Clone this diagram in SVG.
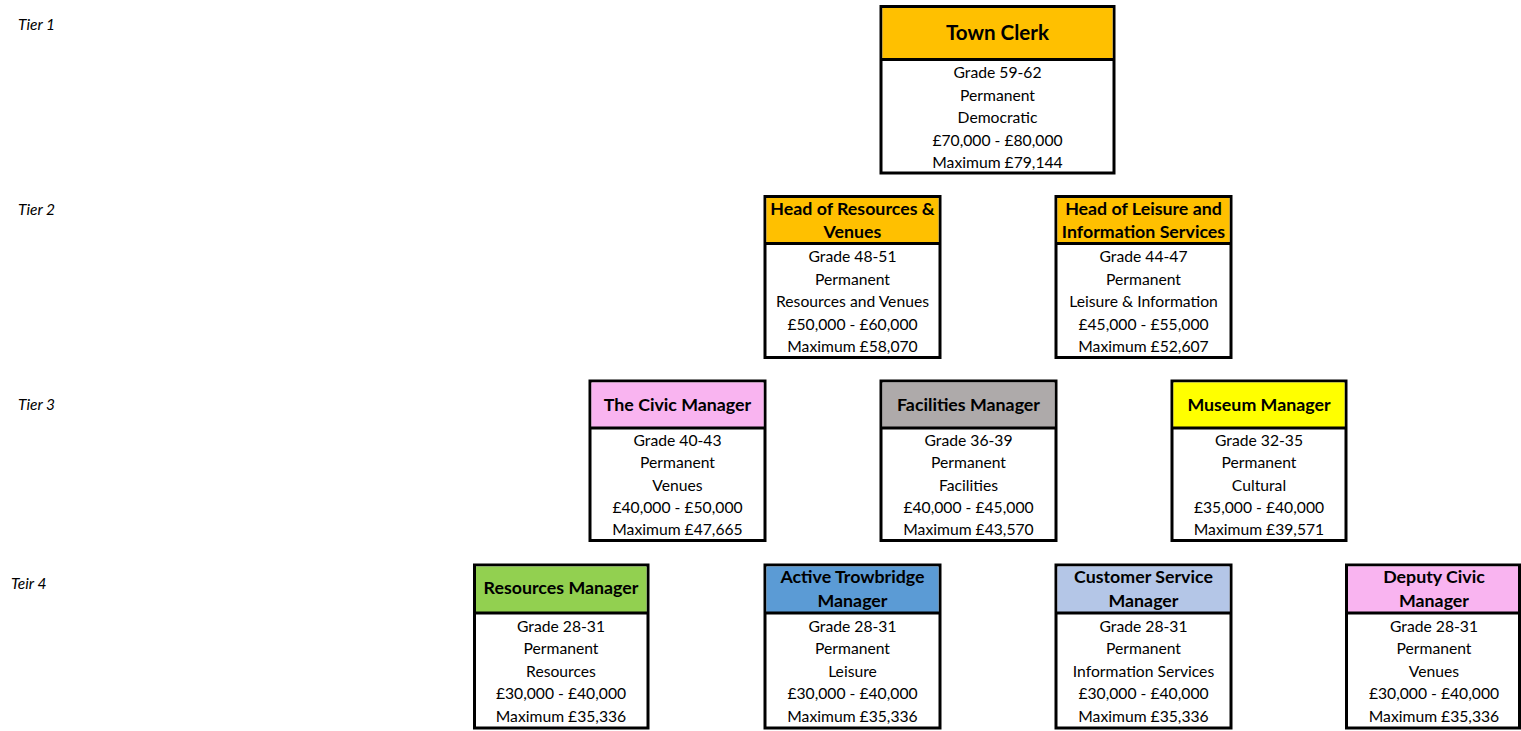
<svg xmlns="http://www.w3.org/2000/svg" width="1521" height="731" viewBox="0 0 1521 731">
<style>
.bg{fill:#ffffff}
.box{fill:#ffffff;stroke:#000;stroke-width:3}
.div{stroke:#000;stroke-width:3}
.t{font-family:Lato,"Liberation Sans",sans-serif;font-size:15.7px;fill:#000;text-anchor:middle}
.h{font-family:Lato,"Liberation Sans",sans-serif;font-size:17.8px;font-weight:bold;fill:#000;text-anchor:middle}
.hb{font-family:Lato,"Liberation Sans",sans-serif;font-size:20.6px;font-weight:bold;fill:#000;text-anchor:middle}
.tier{font-family:Lato,"Liberation Sans",sans-serif;font-size:15.5px;font-style:italic;fill:#000}
.orange{fill:#FFC000}
.pink{fill:#F9B4F0}
.gray{fill:#AEAAAA}
.yellow{fill:#FFFF00}
.green{fill:#92D050}
.blue{fill:#5B9BD5}
.lblue{fill:#B4C6E7}
</style>
<rect class="bg" x="0" y="0" width="1521" height="731"/>
<g id="tier-labels">
<text class="tier" x="18" y="30">Tier 1</text>
<text class="tier" x="18" y="215">Tier 2</text>
<text class="tier" x="18" y="410">Tier 3</text>
<text class="tier" x="11" y="589">Teir 4</text>
</g>
<g id="connectors"></g>
<g id="town-clerk">
<rect class="box" x="881" y="6.5" width="233" height="166.5"/>
<rect class="orange" x="882.5" y="8" width="230" height="51"/>
<line class="div" x1="881" y1="59.5" x2="1114" y2="59.5"/>
<text class="hb" x="997.5" y="39.5">Town Clerk</text>
<text class="t" x="997.5" y="77.5">Grade 59-62</text>
<text class="t" x="997.5" y="100.5">Permanent</text>
<text class="t" x="997.5" y="122.5">Democratic</text>
<text class="t" x="997.5" y="145.5">£70,000 - £80,000</text>
<text class="t" x="997.5" y="167.5">Maximum £79,144</text>
</g>
<g id="head-resources">
<rect class="box" x="765" y="196.5" width="175" height="161"/>
<rect class="orange" x="766.5" y="198" width="172" height="45"/>
<line class="div" x1="765" y1="243.5" x2="940" y2="243.5"/>
<text class="h" x="852.5" y="215">Head of Resources &amp;</text>
<text class="h" x="852.5" y="238">Venues</text>
<text class="t" x="852.5" y="261.5">Grade 48-51</text>
<text class="t" x="852.5" y="284.5">Permanent</text>
<text class="t" x="852.5" y="306.5">Resources and Venues</text>
<text class="t" x="852.5" y="329.5">£50,000 - £60,000</text>
<text class="t" x="852.5" y="351.5">Maximum £58,070</text>
</g>
<g id="head-leisure">
<rect class="box" x="1056" y="196.5" width="175" height="161"/>
<rect class="orange" x="1057.5" y="198" width="172" height="45"/>
<line class="div" x1="1056" y1="243.5" x2="1231" y2="243.5"/>
<text class="h" x="1143.5" y="215">Head of Leisure and</text>
<text class="h" x="1143.5" y="238">Information Services</text>
<text class="t" x="1143.5" y="261.5">Grade 44-47</text>
<text class="t" x="1143.5" y="284.5">Permanent</text>
<text class="t" x="1143.5" y="306.5">Leisure &amp; Information</text>
<text class="t" x="1143.5" y="329.5">£45,000 - £55,000</text>
<text class="t" x="1143.5" y="351.5">Maximum £52,607</text>
</g>
<g id="civic-manager">
<rect class="box" x="590" y="381" width="175" height="159.5"/>
<rect class="pink" x="591.5" y="382.5" width="172" height="45"/>
<line class="div" x1="590" y1="428" x2="765" y2="428"/>
<text class="h" x="677.5" y="411">The Civic Manager</text>
<text class="t" x="677.5" y="445.5">Grade 40-43</text>
<text class="t" x="677.5" y="467.5">Permanent</text>
<text class="t" x="677.5" y="490.5">Venues</text>
<text class="t" x="677.5" y="512.5">£40,000 - £50,000</text>
<text class="t" x="677.5" y="534.5">Maximum £47,665</text>
</g>
<g id="facilities-manager">
<rect class="box" x="881" y="381" width="175" height="159.5"/>
<rect class="gray" x="882.5" y="382.5" width="172" height="45"/>
<line class="div" x1="881" y1="428" x2="1056" y2="428"/>
<text class="h" x="968.5" y="411">Facilities Manager</text>
<text class="t" x="968.5" y="445.5">Grade 36-39</text>
<text class="t" x="968.5" y="467.5">Permanent</text>
<text class="t" x="968.5" y="490.5">Facilities</text>
<text class="t" x="968.5" y="512.5">£40,000 - £45,000</text>
<text class="t" x="968.5" y="534.5">Maximum £43,570</text>
</g>
<g id="museum-manager">
<rect class="box" x="1172" y="381" width="174" height="159.5"/>
<rect class="yellow" x="1173.5" y="382.5" width="171" height="45"/>
<line class="div" x1="1172" y1="428" x2="1346" y2="428"/>
<text class="h" x="1259" y="411">Museum Manager</text>
<text class="t" x="1259" y="445.5">Grade 32-35</text>
<text class="t" x="1259" y="467.5">Permanent</text>
<text class="t" x="1259" y="490.5">Cultural</text>
<text class="t" x="1259" y="512.5">£35,000 - £40,000</text>
<text class="t" x="1259" y="534.5">Maximum £39,571</text>
</g>
<g id="resources-manager">
<rect class="box" x="474.5" y="565" width="173.5" height="163"/>
<rect class="green" x="476" y="566.5" width="170.5" height="46"/>
<line class="div" x1="474.5" y1="613" x2="648" y2="613"/>
<text class="h" x="561" y="594">Resources Manager</text>
<text class="t" x="561" y="631.5">Grade 28-31</text>
<text class="t" x="561" y="653.5">Permanent</text>
<text class="t" x="561" y="676.5">Resources</text>
<text class="t" x="561" y="698.5">£30,000 - £40,000</text>
<text class="t" x="561" y="721.5">Maximum £35,336</text>
</g>
<g id="active-trowbridge-manager">
<rect class="box" x="765" y="565" width="175" height="163"/>
<rect class="blue" x="766.5" y="566.5" width="172" height="46"/>
<line class="div" x1="765" y1="613" x2="940" y2="613"/>
<text class="h" x="852.5" y="583">Active Trowbridge</text>
<text class="h" x="852.5" y="607">Manager</text>
<text class="t" x="852.5" y="631.5">Grade 28-31</text>
<text class="t" x="852.5" y="653.5">Permanent</text>
<text class="t" x="852.5" y="676.5">Leisure</text>
<text class="t" x="852.5" y="698.5">£30,000 - £40,000</text>
<text class="t" x="852.5" y="721.5">Maximum £35,336</text>
</g>
<g id="customer-service-manager">
<rect class="box" x="1056" y="565" width="175" height="163"/>
<rect class="lblue" x="1057.5" y="566.5" width="172" height="46"/>
<line class="div" x1="1056" y1="613" x2="1231" y2="613"/>
<text class="h" x="1143.5" y="583">Customer Service</text>
<text class="h" x="1143.5" y="607">Manager</text>
<text class="t" x="1143.5" y="631.5">Grade 28-31</text>
<text class="t" x="1143.5" y="653.5">Permanent</text>
<text class="t" x="1143.5" y="676.5">Information Services</text>
<text class="t" x="1143.5" y="698.5">£30,000 - £40,000</text>
<text class="t" x="1143.5" y="721.5">Maximum £35,336</text>
</g>
<g id="deputy-civic-manager">
<rect class="box" x="1346.5" y="565" width="173" height="163"/>
<rect class="pink" x="1348" y="566.5" width="170" height="46"/>
<line class="div" x1="1346.5" y1="613" x2="1519.5" y2="613"/>
<text class="h" x="1434" y="583">Deputy Civic</text>
<text class="h" x="1434" y="607">Manager</text>
<text class="t" x="1434" y="631.5">Grade 28-31</text>
<text class="t" x="1434" y="653.5">Permanent</text>
<text class="t" x="1434" y="676.5">Venues</text>
<text class="t" x="1434" y="698.5">£30,000 - £40,000</text>
<text class="t" x="1434" y="721.5">Maximum £35,336</text>
</g>
</svg>
